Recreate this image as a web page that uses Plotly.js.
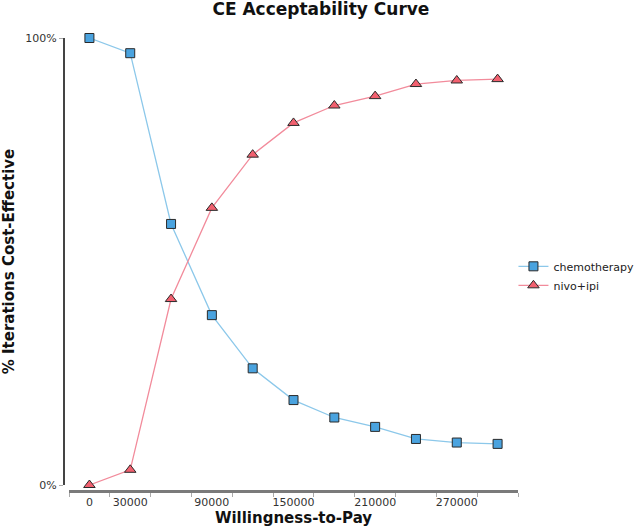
<!DOCTYPE html>
<html>
<head>
<meta charset="utf-8">
<script src="https://cdn.plot.ly/plotly-3.0.1.min.js"></script>
<style>
html,body{margin:0;padding:0;background:#fff;}
#chart{width:638px;height:529px;}
</style>
</head>
<body>
<div id="chart"></div>
<script>
// Willingness-to-pay thresholds
var wtp = [0, 30000, 60000, 90000, 120000, 150000, 180000, 210000, 240000, 270000, 300000];
// % iterations cost-effective
var chemotherapy = [100, 96.6, 58.4, 38.0, 26.1, 19.0, 15.1, 13.0, 10.3, 9.5, 9.2];
var nivoIpi = [0, 3.4, 41.6, 62.0, 73.9, 81.0, 84.9, 87.0, 89.7, 90.5, 90.8];
// tick labels shown on the x axis
var xTickVals = [0, 30000, 90000, 150000, 210000, 270000];
var xTickText = ['0', '30000', '90000', '150000', '210000', '270000'];
var yTickVals = [0, 100];
var yTickText = ['0%', '100%'];

var font = 'DejaVu Sans, Verdana, sans-serif';

var traces = [
  {
    x: wtp, y: chemotherapy, name: 'chemotherapy', type: 'scatter', mode: 'lines+markers',
    line: {color: '#8cc8ea', width: 1.3},
    marker: {symbol: 'square', size: 9, color: '#4aa3df', line: {color: '#2a2a2a', width: 1}},
    cliponaxis: false
  },
  {
    x: wtp, y: nivoIpi, name: 'nivo+ipi', type: 'scatter', mode: 'lines+markers',
    line: {color: '#f28b9b', width: 1.3},
    marker: {symbol: 'triangle-up', size: 10, color: '#f2606f', line: {color: '#2a2a2a', width: 1}},
    cliponaxis: false
  }
];

var layout = {
  width: 638, height: 529,
  margin: {l: 63, r: 120, t: 38, b: 38, autoexpand: false},
  paper_bgcolor: '#fff', plot_bgcolor: '#fff',
  font: {family: font, size: 11, color: '#333'},
  title: {
    text: '<b>CE Acceptability Curve</b>',
    font: {family: font, size: 17, color: '#111'},
    x: 0.503, xref: 'container', xanchor: 'center',
    y: 0.982, yref: 'container', yanchor: 'middle'
  },
  xaxis: {
    domain: [6 / 455, 1],
    range: [-15000, 315000],
    anchor: 'free', position: 0,
    showgrid: false, zeroline: false,
    showline: true, linecolor: '#7a7a7a', linewidth: 2.5,
    tickmode: 'array', tickvals: xTickVals, ticktext: xTickText,
    ticks: '', ticklen: 0,
    tickfont: {family: font, size: 11, color: '#333'},
    minor: {tickmode: 'linear', tick0: -15000, dtick: 30000, ticks: 'outside', ticklen: 4, tickcolor: '#aaa', tickwidth: 1, showgrid: false},
    title: {text: '<b>Willingness-to-Pay</b>', font: {family: font, size: 15, color: '#111'}, standoff: 4}
  },
  yaxis: {
    domain: [6 / 453, 1],
    range: [0, 100],
    anchor: 'free', position: 0,
    showgrid: false, zeroline: false,
    showline: true, linecolor: '#444', linewidth: 1.5,
    tickmode: 'array', tickvals: yTickVals, ticktext: yTickText,
    ticks: 'outside', ticklen: 4, tickcolor: '#aaa', tickwidth: 1,
    tickfont: {family: font, size: 11, color: '#333'},
    title: {text: '<b>% Iterations Cost-Effective</b>', font: {family: font, size: 15, color: '#111'}, standoff: 7}
  },
  showlegend: true,
  legend: {
    x: 0.99, xanchor: 'left', y: 0.475, yanchor: 'middle',
    font: {family: font, size: 11, color: '#222'},
    bgcolor: 'rgba(0,0,0,0)', tracegroupgap: 0, itemwidth: 30
  }
};

Plotly.newPlot('chart', traces, layout, {displayModeBar: false, staticPlot: true});
</script>
</body>
</html>
